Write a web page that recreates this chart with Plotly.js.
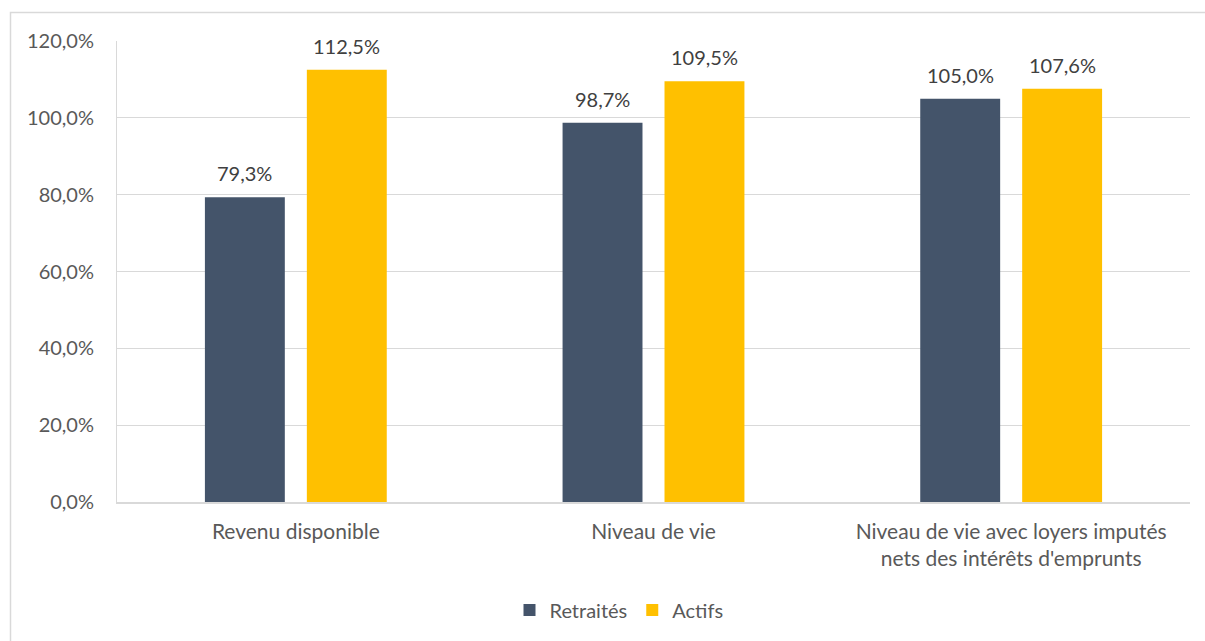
<!DOCTYPE html>
<html><head><meta charset="utf-8">
<script src="https://cdn.plot.ly/plotly-3.0.1.min.js"></script>
<style>html,body{margin:0;padding:0;background:#fff;}#chart{width:1205px;height:641px;}</style>
</head><body><div id="chart"></div>
<script>
const categories = ["Revenu disponible", "Niveau de vie", "Niveau de vie avec loyers imputés<br>nets des intérêts d'emprunts"];
const retraites = [79.3, 98.7, 105.0];
const actifs = [112.5, 109.5, 107.6];
const seriesNames = ["Retraités", "Actifs"];
const yTicks = [0, 20, 40, 60, 80, 100, 120];

const font = "Lato, sans-serif";
const fs = 21;
const txt = "#595959";
const pl = 117, pr = 1190, pt = 41, pb = 502;
const px = v => (v - pl) / (pr - pl);
const py = v => (pb - v) / (pb - pt);
const fmt = v => v.toFixed(1).replace('.', ',') + '%';

const traces = [
  {type:'bar', name:seriesNames[0], x:categories, y:retraites, marker:{color:'#44546A'}, hoverinfo:'skip'},
  {type:'bar', name:seriesNames[1], x:categories, y:actifs, marker:{color:'#FFC000'}, hoverinfo:'skip'}
];

const annotations = [];
[[retraites, -51], [actifs, 51]].forEach(([vals, shift]) => {
  vals.forEach((v, i) => annotations.push({
    xref:'x', yref:'y', x:categories[i], y:v, text:fmt(v), showarrow:false,
    xanchor:'center', yanchor:'bottom', xshift:shift, yshift:10,
    font:{family:font, size:fs-1, color:'#404040'}
  }));
});

const layout = {
  width:1205, height:641,
  margin:{l:pl, r:1205-pr, t:pt, b:641-pb, pad:0},
  paper_bgcolor:'#fff', plot_bgcolor:'#fff',
  barmode:'group', bargap:0.43, bargroupgap:0.216,
  font:{family:font, size:fs, color:txt},
  showlegend:true,
  legend:{orientation:'h', x:px(619), xanchor:'center', y:py(610), yanchor:'middle',
          font:{family:font, size:fs-1, color:txt}, itemwidth:30, traceorder:'normal'},
  xaxis:{type:'category', showgrid:false, showline:true, linecolor:'#d9d9d9', linewidth:1.5,
         ticks:'', ticklabelstandoff:10, tickfont:{family:font, size:fs, color:txt}, fixedrange:true},
  yaxis:{range:[0,120], tickvals:yTicks, ticktext:yTicks.map(fmt),
         showgrid:true, gridcolor:'#d9d9d9', gridwidth:1, showline:true, linecolor:'#d9d9d9',
         zeroline:false, ticks:'', ticklabelstandoff:18,
         tickfont:{family:font, size:fs-1, color:txt}, fixedrange:true},
  annotations: annotations,
  shapes:[{type:'rect', xref:'paper', yref:'paper', x0:px(10.5), x1:px(1240), y0:py(680), y1:py(12.5),
           line:{color:'#d9d9d9', width:1.5}, fillcolor:'rgba(0,0,0,0)', layer:'below'}]
};
Plotly.newPlot('chart', traces, layout, {displayModeBar:false, staticPlot:true});
</script></body></html>
